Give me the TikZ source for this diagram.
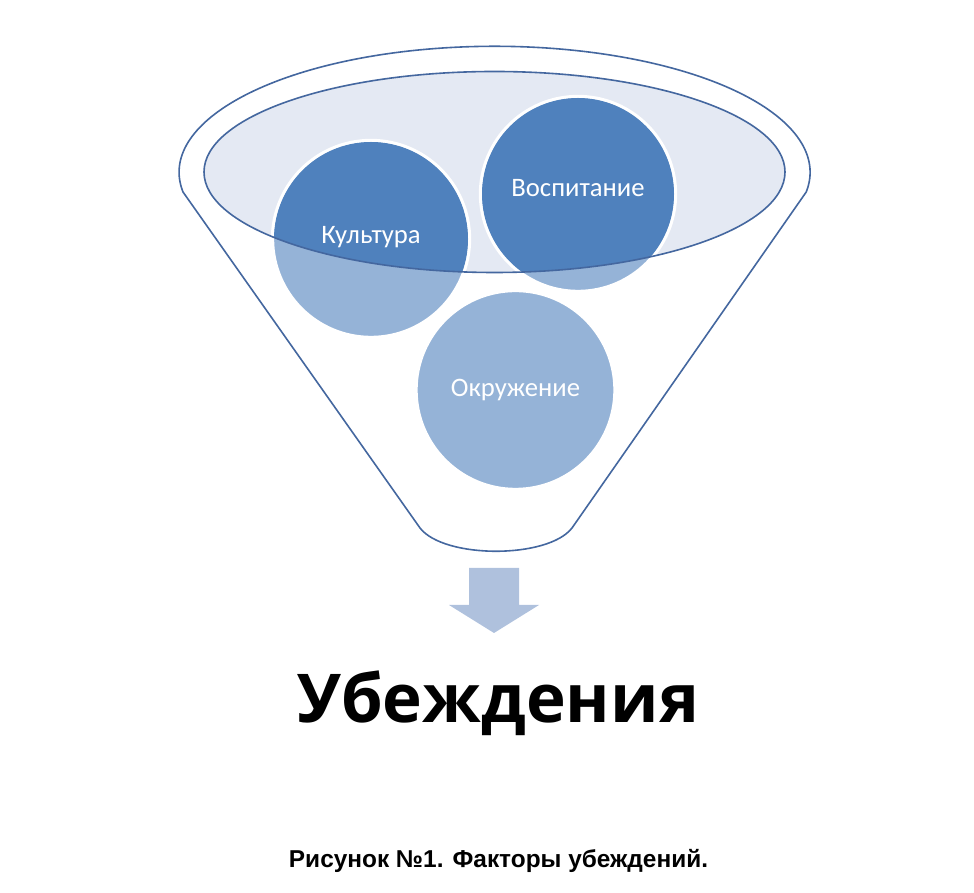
\documentclass[tikz,border=0pt]{standalone}
\usepackage{fontspec}
\setmainfont{Carlito}
\newfontfamily\headfont{Open Sans}
\newfontfamily\capfont{Liberation Sans}
\definecolor{rim}{HTML}{44679F}
\definecolor{bowl}{HTML}{E4E9F3}
\definecolor{ball}{HTML}{4F81BD}
\definecolor{balllight}{HTML}{95B3D7}
\definecolor{spout}{HTML}{AFC1DD}
\tikzset{balltext/.style={text=white,font=\fontsize{20}{24}\selectfont}}

\begin{document}
\begin{tikzpicture}[x=0.75pt,y=0.75pt]
    \useasboundingbox (0,0) rectangle (974,892);
    \filldraw[draw=rim,fill=white,line width=1.2pt] (183,700)
        arc[start angle=189,end angle=-9,x radius=315.5,y radius=126]
        -- (572,364) .. controls (548,333) and (444,333) .. (420,364)
        -- cycle;
    \fill[bowl] (494.5,720) ellipse (290.5 and 100.5);

    \filldraw[draw=white,fill=balllight,line width=2.5pt] (371,653) circle (98.5);
    \filldraw[draw=white,fill=balllight,line width=2.5pt] (578,698) circle (97.5);
    \filldraw[draw=white,fill=balllight,line width=2.5pt] (515.5,502) circle (99.5);
    \begin{scope}
        \clip (494.5,720) ellipse (290.5 and 100.5);
        \fill[ball] (371,653) circle (97) (578,698) circle (96);
    \end{scope}
    \draw[rim,line width=1.2pt] (494.5,720) ellipse (290.5 and 100.5);

    \node[balltext] (kultura) at (371,655) {Культура};
    \node[balltext] (vospitanie) at (578,704) {Воспитание};
    \node[balltext] (okruzhenie) at (515.5,502) {Окружение};

    \fill[spout] (469,324) -- (519,324) -- (519,287) -- (539,287) -- (494,259)
        -- (449,287) -- (469,287) -- cycle;

    \node[anchor=base] (result) at (498,169)
        {\headfont\bfseries\fontsize{50.5}{58}\selectfont Убеждения};
    \node[anchor=base] (caption) at (498.5,24)
        {\capfont\bfseries\fontsize{18.3}{22}\selectfont Рисунок №1. Факторы убеждений.};
\end{tikzpicture}
\end{document}
